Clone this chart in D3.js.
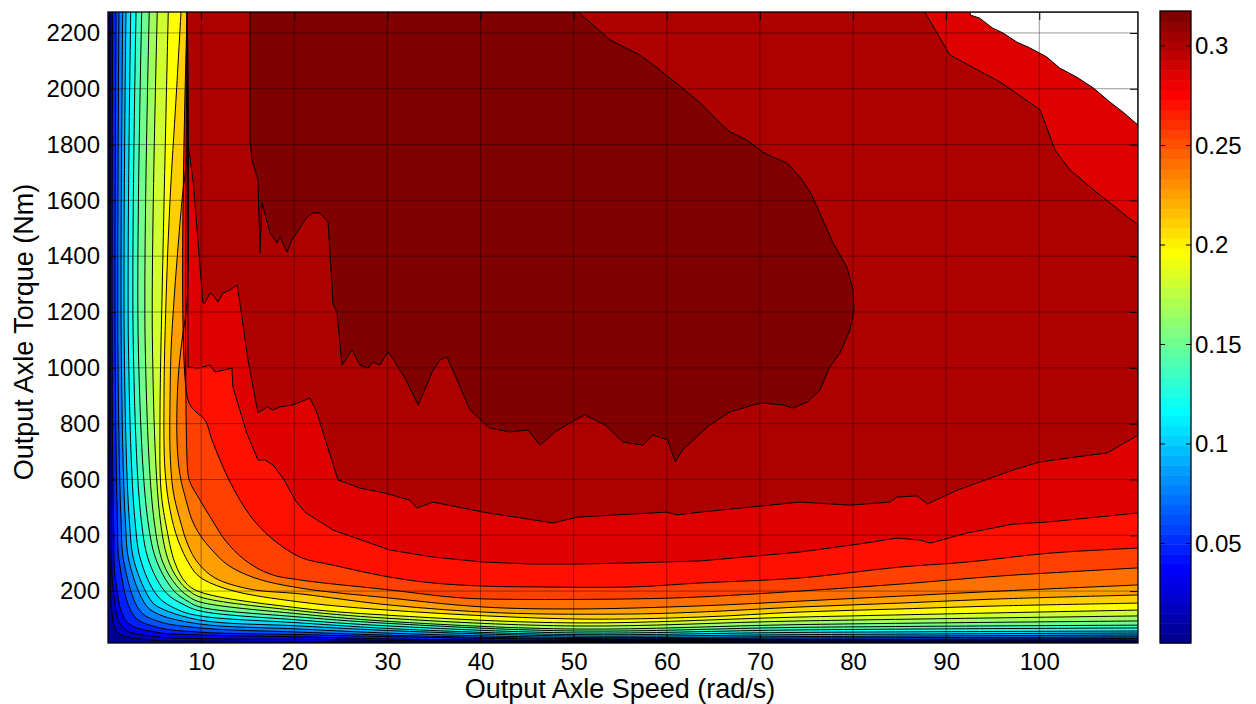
<!DOCTYPE html>
<html>
<head>
<meta charset="utf-8">
<script src="https://cdn.jsdelivr.net/npm/d3@7"></script>
<style>
body { margin: 0; background: #fff; }
text { font-family: "Liberation Sans", Arial, Helvetica, sans-serif; fill: #000; }
</style>
</head>
<body>
<svg id="chart" width="1256" height="704"></svg>
<script>
// axis ranges and ticks
const speedDomain = [0, 110.6];
const torqueDomain = [14, 2275];
const speedTicks = [10, 20, 30, 40, 50, 60, 70, 80, 90, 100];
const torqueTicks = [200, 400, 600, 800, 1000, 1200, 1400, 1600, 1800, 2000, 2200];
const effRange = [0, 0.3176];
const colorbarTicks = [0.05, 0.1, 0.15, 0.2, 0.25, 0.3];

// contour levels (efficiency)
const levels = [0.0000, 0.0151, 0.0302, 0.0454, 0.0605, 0.0756, 0.0907, 0.1059, 0.1210, 0.1361, 0.1512,
                0.1664, 0.1815, 0.1966, 0.2117, 0.2269, 0.2420, 0.2571, 0.2722, 0.2873, 0.3025, 0.3176];

// contour lines bounding "efficiency >= level", [speed rad/s, torque Nm]
const iso01 = [[0.16,2275],[0.14,1089],[0.18,455],[0.23,301],[0.42,125],[1.08,50],[4.99,24],[9.88,21],[20.62,19],[50.36,16.5],[74.3,17],[110.6,18]];
const iso02 = [[0.32,2275],[0.29,1089],[0.38,455],[0.6,193],[1.59,69],[5.06,37],[9.88,30],[20.62,27],[31.35,23],[50.36,19],[74.3,20],[110.6,21]];
const iso03 = [[0.5,2275],[0.45,1089],[0.59,455],[0.85,229],[2.05,89],[5.12,53],[9.88,43],[20.62,36],[31.35,28],[50.36,23],[74.3,24],[110.6,25]];
const iso04 = [[0.86,2275],[0.77,1089],[1.01,455],[1.23,301],[2.82,110],[5.25,71],[9.88,53],[20.62,44],[31.35,36],[50.36,27],[74.3,27],[110.6,30]];
const iso05 = [[1.18,2275],[1.06,1089],[1.4,455],[1.72,301],[3.44,129],[5.37,92],[9.88,68],[20.62,53],[31.35,41],[50.36,30],[74.3,32],[110.6,36]];
const iso06 = [[1.58,2275],[1.42,1089],[1.86,455],[2.3,301],[4.11,148],[5.51,116],[9.88,82],[20.62,64],[31.35,48],[50.36,34],[74.3,37],[110.6,43]];
const iso07 = [[1.93,2275],[1.74,1089],[2.29,455],[2.85,301],[4.68,163],[5.64,139],[9.88,96],[20.62,75],[31.35,57],[50.36,39],[74.3,44],[110.6,50]];
const iso08 = [[2.44,2275],[2.19,1089],[2.89,455],[3.6,301],[5.43,178],[7.52,133],[9.88,111],[20.62,86],[31.35,64],[50.36,44],[74.3,52],[110.6,57]];
const iso09 = [[3.01,2275],[2.71,1089],[3.57,455],[4.46,301],[6.26,193],[8.05,153],[9.88,129],[20.62,96],[31.35,73],[50.36,50],[74.3,61],[110.6,68]];
const iso10 = [[3.62,2275],[3.25,1089],[4.27,455],[5.3,301],[7.11,200],[8.59,163],[9.88,143],[20.62,107],[31.35,82],[50.36,57],[74.3,70],[110.6,78]];
const iso11 = [[4.43,2275],[3.99,1089],[4.94,455],[5.91,301],[7.3,222],[8.59,182],[9.88,161],[20.62,118],[31.35,89],[50.36,64],[74.3,80],[110.6,93]];
const iso12 = [[5.29,2275],[4.77,1089],[5.61,455],[6.58,301],[7.81,229],[8.75,200],[9.88,179],[20.62,129],[31.35,100],[50.36,75],[74.3,93],[110.6,111]];
const iso13 = [[6.47,2275],[5.91,1422],[5.58,813],[5.69,562],[6.23,437],[7.19,301],[8.38,229],[9.88,197],[20.62,139],[31.35,111],[50.36,86],[74.3,107],[110.6,132]];
const iso14 = [[7.84,2275],[7.3,1960],[6.66,1602],[6.23,1243],[6.01,885],[6.12,634],[6.66,491],[7.52,383],[8.8,293],[9.88,250],[13.1,204],[20.62,161],[31.35,129],[50.36,100],[63.56,107],[74.3,125],[85.04,136],[95.8,147],[110.6,157]];
const iso15 = [[8.5,2275],[8.5,1780],[7.95,1602],[7.41,1386],[7.09,1243],[6.77,1064],[6.66,885],[6.66,706],[6.98,562],[7.73,455],[8.59,365],[9.66,301],[11.49,247],[15.25,207],[20.62,190],[30.28,150],[42.1,122],[56.37,118],[63.56,125],[74.3,143],[85.04,157],[95.8,172],[110.6,186]];
const iso16 = [[8.5,2275],[8.5,1243],[7.95,1100],[7.52,956],[7.41,741],[7.73,616],[8.38,526],[9.02,455],[9.88,401],[11.17,347],[12.89,293],[15.78,247],[20.62,211],[30.28,175],[40.27,143],[50.36,136],[63.56,147],[74.3,164],[85.04,182],[95.8,200],[110.6,222]];
const iso17 = [[8.5,2275],[8.55,634],[8.8,591],[9.88,526],[11.17,455],[12.56,383],[14.7,311],[17.4,261],[20.6,240],[30.28,204],[36.7,179],[40.27,172],[56.37,172],[63.56,179],[74.3,200],[85.04,225],[95.8,254],[110.6,283]];
const iso18 = [[8.5,2275],[8.59,885],[9.45,842],[10.42,813],[11.17,741],[12.03,670],[12.89,605],[14.17,526],[15.46,462],[17.4,394],[20.6,322],[24.16,293],[30.28,250],[34.9,229],[40.27,218],[45.6,215],[56.37,215],[63.56,229],[74.3,247],[85.04,286],[92.24,304],[101.15,336],[110.6,354]];
const iso19 = [[8.5,2275],[8.6,1003],[9.66,999],[10.95,1010],[11.5,985],[13.3,999],[13.42,931],[14.9,766],[16.1,670],[16.86,670],[17.72,652],[18.8,605],[20.1,526],[21.15,483],[24.16,419],[27.8,376],[30.3,347],[34.9,322],[40.3,304],[45.6,297],[50.4,297],[56.4,301],[63.6,308],[74.3,340],[80.7,369],[84.7,390],[87.2,383],[88.3,372],[92.2,408],[97.2,440],[101.1,448],[110.6,480]];
const iso20 = [[8.5,2275],[8.54,1816],[9.13,1673],[10.2,1232],[10.4,1232],[10.95,1268],[11.27,1261],[11.8,1236],[12.35,1268],[13.1,1279],[13.85,1297],[14.17,1232],[15.03,1028],[16.1,838],[17.07,860],[17.72,849],[18.47,860],[19.86,867],[21.7,892],[22.44,838],[24.7,598],[27.06,569],[29.74,551],[32.4,526],[33.2,498],[34.9,519],[40.3,483],[47.8,444],[50.4,465],[60.0,483],[61.1,473],[63.6,483],[69.0,501],[74.3,519],[79.7,508],[84.0,519],[84.7,537],[86.9,541],[88.0,512],[91.2,562],[97.2,634],[100.1,663],[104.7,684],[107.3,695],[110.6,759],[110.6,1512],[106.5,1619],[103.3,1709],[101.7,1780],[100.1,1924],[95.8,2024],[90.4,2121],[87.7,2275]];
const iso21 = [[15.25,2275],[15.25,1816],[15.46,1745],[16.1,1673],[16.32,1411],[16.54,1591],[17.4,1483],[18.15,1447],[18.47,1469],[19.22,1415],[19.76,1458],[20.94,1519],[21.37,1540],[22.01,1555],[22.76,1555],[23.62,1523],[24.16,1232],[24.59,1196],[25.13,1010],[26.2,1064],[27.06,1010],[27.92,999],[28.45,1021],[29.2,1010],[30.07,1057],[30.82,1021],[31.89,963],[33.3,867],[34.0,920],[34.8,985],[35.65,1028],[36.4,1039],[37.26,974],[38.87,849],[41.0,784],[43.17,770],[45.1,777],[46.4,723],[48.0,770],[50.15,813],[51.2,831],[53.4,795],[55.3,734],[57.45,723],[58.5,759],[60.1,741],[60.9,663],[61.7,706],[64.6,795],[66.8,842],[69.3,867],[70.3,874],[72.4,867],[73.55,856],[75.06,877],[76.45,920],[77.5,1003],[78.6,1053],[79.66,1135],[80.1,1207],[80.0,1279],[79.35,1361],[77.85,1447],[76.67,1537],[75.4,1630],[74.3,1684],[72.9,1734],[71.6,1752],[70.3,1773],[68.6,1816],[66.8,1845],[65.7,1877],[63.6,1949],[59.3,2067],[57.1,2121],[53.9,2175],[51.75,2239],[50.5,2275]];
const isoLines = [iso01, iso02, iso03, iso04, iso05, iso06, iso07, iso08, iso09, iso10, iso11,
                  iso12, iso13, iso14, iso15, iso16, iso17, iso18, iso19, iso20, iso21];

// maximum torque boundary (no data above it)
const torqueLimit = [[92.56,2275],[92.6,2264],[93.6,2253],[95.0,2217],[96.1,2200],[97.6,2167],[99.0,2146],[100.8,2114],[102.2,2074],[104.0,2042],[105.8,2003],[107.6,1952],[109.0,1916],[110.6,1870]];

const L = 108, R = 1138, T = 12, B = 643;
const x = d3.scaleLinear().domain(speedDomain).range([L, R]);
const y = d3.scaleLinear().domain(torqueDomain).range([B, T]);
const cy = d3.scaleLinear().domain(effRange).range([B, 11]);

// matlab jet, 64 entries
function jet(idx) {
  const t = idx / 64;
  const cl = v => Math.max(0, Math.min(1, v));
  const r = cl(Math.min(4 * t - 1.5, -4 * t + 4.5));
  const g = cl(Math.min(4 * t - 0.5, -4 * t + 3.5));
  const b = cl(Math.min(4 * t + 0.5, -4 * t + 2.5));
  return d3.rgb(r * 255, g * 255, b * 255).formatHex();
}
function levelColor(v) {
  const idx = Math.min(64, Math.floor((v - effRange[0]) / (effRange[1] - effRange[0]) * 64 + 1e-9) + 1);
  return jet(idx);
}

const smooth = d3.line().x(d => x(d[0])).y(d => y(d[1])).curve(d3.curveCatmullRom.alpha(0.5));
const sharp = d3.line().x(d => x(d[0])).y(d => y(d[1]));
const isoPath = (pts, i) => (i < 18 ? smooth : sharp)(pts);
function regionPath(pts, i) {
  let d = isoPath(pts, i);
  const last = pts[pts.length - 1];
  if (last[1] < torqueDomain[1]) d += `L${x(speedDomain[1])},${y(torqueDomain[1])}`;
  return d + "Z";
}

const svg = d3.select("#chart");
svg.append("defs").append("clipPath").attr("id", "plotClip")
  .append("rect").attr("x", L).attr("y", T).attr("width", R - L).attr("height", B - T);

const plot = svg.append("g").attr("clip-path", "url(#plotClip)");

plot.append("rect").attr("x", L).attr("y", T).attr("width", R - L).attr("height", B - T)
  .attr("fill", levelColor(levels[0]));

plot.selectAll("path.fill").data(isoLines).enter().append("path")
  .attr("class", "fill")
  .attr("d", (d, i) => regionPath(d, i))
  .attr("fill", (d, i) => levelColor(levels[i + 1]));

plot.selectAll("path.iso").data(isoLines).enter().append("path")
  .attr("class", "iso")
  .attr("d", (d, i) => isoPath(d, i))
  .attr("fill", "none").attr("stroke", "#000").attr("stroke-width", 1);

plot.append("path").attr("d", sharp(torqueLimit) + `L${x(speedDomain[1])},${y(torqueDomain[1])}Z`)
  .attr("fill", "#fff").attr("stroke", "#000").attr("stroke-width", 1);

// grid
const grid = plot.append("g").attr("stroke", "#000").attr("stroke-opacity", 0.4).attr("stroke-width", 1);
speedTicks.forEach(v => grid.append("line").attr("x1", x(v)).attr("x2", x(v)).attr("y1", T).attr("y2", B));
torqueTicks.forEach(v => grid.append("line").attr("x1", L).attr("x2", R).attr("y1", y(v)).attr("y2", y(v)));

// axes
const tickFont = 24;
svg.append("g").attr("transform", `translate(0,${B})`)
  .call(d3.axisBottom(x).tickValues(speedTicks).tickSize(-8).tickPadding(10).tickFormat(d3.format("d")));
svg.append("g").attr("transform", `translate(${L},0)`)
  .call(d3.axisLeft(y).tickValues(torqueTicks).tickSize(-8).tickPadding(8).tickFormat(d3.format("d")));
svg.append("g").attr("transform", `translate(0,${T})`)
  .call(d3.axisTop(x).tickValues(speedTicks).tickSize(-8).tickFormat(""));
svg.append("g").attr("transform", `translate(${R},0)`)
  .call(d3.axisRight(y).tickValues(torqueTicks).tickSize(-8).tickFormat(""));
svg.selectAll(".domain").remove();
svg.selectAll(".tick line").attr("stroke", "#000");
svg.selectAll(".tick text").attr("font-size", tickFont).attr("font-family", "Liberation Sans, Arial, sans-serif");

svg.append("rect").attr("x", L).attr("y", T).attr("width", R - L).attr("height", B - T)
  .attr("fill", "none").attr("stroke", "#000").attr("stroke-width", 1.3);

svg.append("text").attr("x", 620).attr("y", 698).attr("text-anchor", "middle")
  .attr("font-size", 27).text("Output Axle Speed (rad/s)");
svg.append("text").attr("transform", "translate(33,332) rotate(-90)").attr("text-anchor", "middle")
  .attr("font-size", 27).text("Output Axle Torque (Nm)");

// colorbar
const cbL = 1160, cbR = 1191;
const cb = svg.append("g");
d3.range(64).forEach(i => {
  const v0 = effRange[0] + (effRange[1] - effRange[0]) * i / 64;
  const v1 = effRange[0] + (effRange[1] - effRange[0]) * (i + 1) / 64;
  cb.append("rect").attr("x", cbL).attr("width", cbR - cbL)
    .attr("y", cy(v1)).attr("height", cy(v0) - cy(v1) + 0.5)
    .attr("fill", jet(i + 1));
});
colorbarTicks.forEach(v => {
  cb.append("line").attr("x1", cbL).attr("x2", cbL + 5).attr("y1", cy(v)).attr("y2", cy(v)).attr("stroke", "#000");
  cb.append("line").attr("x1", cbR - 5).attr("x2", cbR).attr("y1", cy(v)).attr("y2", cy(v)).attr("stroke", "#000");
  cb.append("text").attr("x", cbR + 4).attr("y", cy(v)).attr("dy", "0.35em")
    .attr("font-size", tickFont).text(d3.format("~g")(v));
});
cb.append("rect").attr("x", cbL).attr("y", 11).attr("width", cbR - cbL).attr("height", B - 11)
  .attr("fill", "none").attr("stroke", "#000").attr("stroke-width", 1.3);
</script>
</body>
</html>
